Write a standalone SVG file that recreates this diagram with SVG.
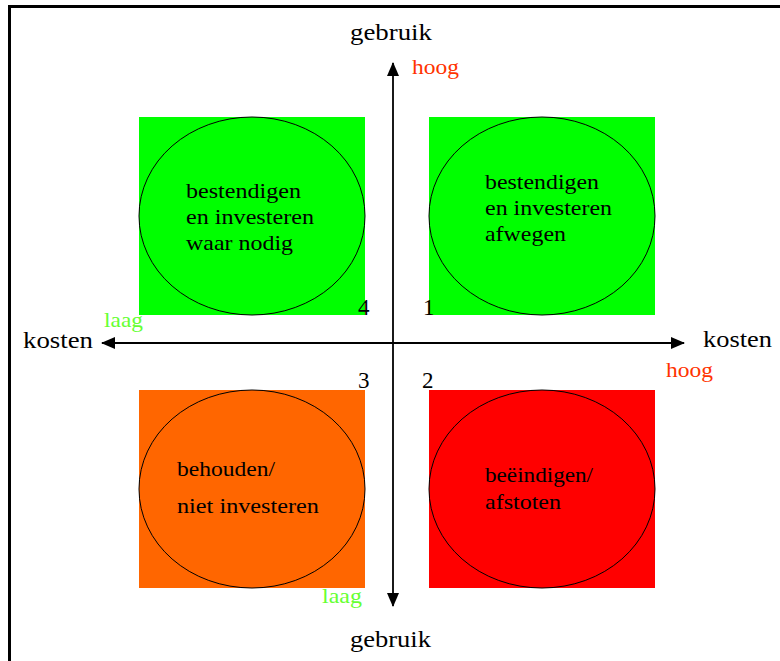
<svg xmlns="http://www.w3.org/2000/svg" width="780" height="661" viewBox="0 0 780 661" font-family="'Liberation Serif', 'DejaVu Serif', serif">
<style>
text{fill:#000}
.lbl{font-size:21px}
.ax{font-size:23px}
.hi{font-size:21px;fill:#ff3300}
.lo{font-size:21px;fill:#66ff33}
.ell{stroke:#000;stroke-width:1}
.axis{stroke:#000;stroke-width:1.8;fill:none}
</style>
<defs>
<marker id="ah" viewBox="0 0 14 12" refX="13" refY="6" markerWidth="14" markerHeight="12" markerUnits="userSpaceOnUse" orient="auto">
<path d="M0,0 L14,6 L0,12 Z" fill="#000"/>
</marker>
</defs>
<rect width="780" height="661" fill="#fff"/>
<path d="M9.5,661 V6.5 H780" fill="none" stroke="#000" stroke-width="3"/>

<g id="q4">
<rect x="139" y="117" width="226" height="198" fill="#00ff00"/>
<ellipse class="ell" cx="252" cy="216" rx="113" ry="99" fill="#00ff00"/>
<text class="lbl" x="186" y="198" textLength="115" lengthAdjust="spacingAndGlyphs">bestendigen</text>
<text class="lbl" x="186" y="224" textLength="128" lengthAdjust="spacingAndGlyphs">en investeren</text>
<text class="lbl" x="186" y="250" textLength="107" lengthAdjust="spacingAndGlyphs">waar nodig</text>
</g>
<g id="q1">
<rect x="429" y="117" width="226" height="198" fill="#00ff00"/>
<ellipse class="ell" cx="542" cy="216" rx="113" ry="99" fill="#00ff00"/>
<text class="lbl" x="485" y="189" textLength="114" lengthAdjust="spacingAndGlyphs">bestendigen</text>
<text class="lbl" x="485" y="215" textLength="127" lengthAdjust="spacingAndGlyphs">en investeren</text>
<text class="lbl" x="485" y="241" textLength="81" lengthAdjust="spacingAndGlyphs">afwegen</text>
</g>
<g id="q3">
<rect x="139" y="390" width="226" height="198" fill="#ff6600"/>
<ellipse class="ell" cx="252" cy="489" rx="113" ry="99" fill="#ff6600"/>
<text class="lbl" x="177" y="476" textLength="98" lengthAdjust="spacingAndGlyphs">behouden/</text>
<text class="lbl" x="177" y="513" textLength="142" lengthAdjust="spacingAndGlyphs">niet investeren</text>
</g>
<g id="q2">
<rect x="429" y="390" width="226" height="198" fill="#ff0000"/>
<ellipse class="ell" cx="542" cy="489" rx="113" ry="99" fill="#ff0000"/>
<text class="lbl" x="485" y="482" textLength="108" lengthAdjust="spacingAndGlyphs">beëindigen/</text>
<text class="lbl" x="485" y="509" textLength="76" lengthAdjust="spacingAndGlyphs">afstoten</text>
</g>

<g id="connectors">
<line class="axis" x1="393" y1="343" x2="393" y2="63" marker-end="url(#ah)"/>
<line class="axis" x1="393" y1="343" x2="393" y2="606" marker-end="url(#ah)"/>
<line class="axis" x1="393" y1="343" x2="102" y2="343" marker-end="url(#ah)"/>
<line class="axis" x1="393" y1="343" x2="684" y2="343" marker-end="url(#ah)"/>
</g>

<g id="labels">
<text class="ax" x="350" y="40" textLength="82" lengthAdjust="spacingAndGlyphs">gebruik</text>
<text class="ax" x="350" y="647" textLength="81" lengthAdjust="spacingAndGlyphs">gebruik</text>
<text class="ax" x="23" y="348" textLength="70" lengthAdjust="spacingAndGlyphs">kosten</text>
<text class="ax" x="703" y="347" textLength="69" lengthAdjust="spacingAndGlyphs">kosten</text>
<text class="hi" x="412" y="74" textLength="47" lengthAdjust="spacingAndGlyphs">hoog</text>
<text class="hi" x="666" y="377" textLength="47" lengthAdjust="spacingAndGlyphs">hoog</text>
<text class="lo" x="104" y="327" textLength="39" lengthAdjust="spacingAndGlyphs">laag</text>
<text class="lo" x="322" y="603" textLength="40" lengthAdjust="spacingAndGlyphs">laag</text>
<text class="ax" x="358" y="315">4</text>
<text class="ax" x="423" y="315">1</text>
<text class="ax" x="358" y="388">3</text>
<text class="ax" x="422" y="388">2</text>
</g>
</svg>
